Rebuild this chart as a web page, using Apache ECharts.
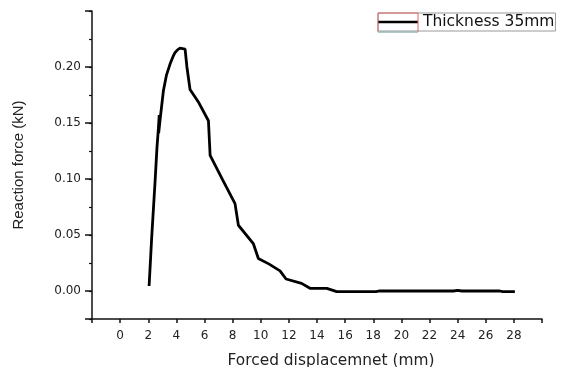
<!DOCTYPE html>
<html><head><meta charset="utf-8">
<script src="https://cdn.jsdelivr.net/npm/echarts@6/dist/echarts.min.js"></script>
<style>html,body{margin:0;padding:0;background:#fff}#c{width:567px;height:367px}</style>
</head><body><div id="c"></div>
<script>
const seriesName = 'Thickness 35mm';
const xs = [2.06, 2.25, 2.49, 2.62, 2.72, 2.78, 2.74, 2.86, 3.08, 3.3, 3.55, 3.75, 3.91, 4.1, 4.26, 4.62, 4.75, 4.97, 5.6, 6.28, 6.4, 7.3, 8.17, 8.41, 9.47, 9.83, 10.6, 11.37, 11.8, 12.9, 13.5, 14.7, 15.4, 18.2, 18.4, 23.7, 24.0, 24.3, 27.0, 27.2, 28.07];
const ys = [0.0045, 0.049, 0.0988, 0.128, 0.145, 0.157, 0.141, 0.155, 0.179, 0.193, 0.2026, 0.209, 0.213, 0.2155, 0.2168, 0.216, 0.200, 0.180, 0.168, 0.152, 0.121, 0.099, 0.078, 0.0587, 0.0424, 0.029, 0.024, 0.018, 0.0107, 0.0068, 0.0024, 0.0024, -0.0006, -0.0006, 0.0, 0.0, 0.0006, 0.0, 0.0, -0.0006, -0.0006];
const yLabelValues = [0, 0.05, 0.10, 0.15, 0.20];
const yMajorTicks = [-0.025, 0, 0.05, 0.10, 0.15, 0.20, 0.25];

const chart = echarts.init(document.getElementById('c'), null, {renderer: 'canvas'});
const axisColor = '#111';
chart.setOption({
  animation: false,
  backgroundColor: '#fff',
  grid: {left: 92, right: 25, top: 11, bottom: 48, containLabel: false, outerBoundsMode: 'none'},
  legend: {
    left: 378, top: 13,
    padding: [1, 1, 1, 0],
    borderColor: '#999', borderWidth: 1,
    itemWidth: 40, itemHeight: 15,
    textStyle: {fontFamily: 'DejaVu Sans', fontSize: 15.5, color: '#111'},
    data: [{name: seriesName, icon: 'path://M0,6 L40,6 L40,8.4 L0,8.4 Z'}]
  },
  xAxis: {
    type: 'value', min: -2, max: 30, interval: 2,
    name: 'Forced displacemnet (mm)', nameLocation: 'middle', nameGap: 34,
    nameTextStyle: {fontFamily: 'DejaVu Sans', fontSize: 15.4, color: '#222', padding: [0, 0, 0, 28]},
    axisLine: {show: true, onZero: false, lineStyle: {color: axisColor, width: 1.5}},
    axisTick: {show: true, inside: false, length: 4, lineStyle: {color: axisColor, width: 1.5}},
    axisLabel: {
      margin: 11, fontFamily: 'DejaVu Sans', fontSize: 12, color: '#222',
      formatter: v => (v < 0 || v > 28) ? '' : String(v)
    },
    splitLine: {show: false}
  },
  yAxis: [{
    type: 'value', min: -0.025, max: 0.25, interval: 0.025,
    name: 'Reaction force (kN)', nameLocation: 'middle', nameGap: 66,
    nameTextStyle: {fontFamily: 'Liberation Sans', fontSize: 15, color: '#222'},
    axisLine: {show: true, onZero: false, lineStyle: {color: axisColor, width: 1.5}},
    axisTick: {show: true, length: 7, customValues: yMajorTicks, lineStyle: {color: axisColor, width: 1.5}},
    axisLabel: {
      margin: 11, fontFamily: 'DejaVu Sans', fontSize: 12, color: '#222',
      customValues: yLabelValues,
      formatter: v => v.toFixed(2)
    },
    splitLine: {show: false}
  }, {
    type: 'value', min: -0.025, max: 0.25, interval: 0.025, position: 'left',
    axisLine: {show: false, onZero: false},
    axisTick: {show: true, length: 3, lineStyle: {color: axisColor, width: 1.2}},
    axisLabel: {show: false},
    splitLine: {show: false}
  }],
  series: [{
    name: seriesName,
    type: 'line',
    yAxisIndex: 0,
    data: xs.map((x, i) => [x, ys[i]]),
    showSymbol: false, symbol: 'none',
    lineStyle: {color: '#000', width: 2.8},
    itemStyle: {color: '#000'}
  }],
  graphic: [
    {type: 'rect', shape: {x: 378, y: 13, width: 40, height: 19}, style: {fill: 'none', stroke: '#d66', lineWidth: 1}, z: 100},
    {type: 'line', shape: {x1: 378, y1: 32, x2: 418, y2: 32}, style: {stroke: '#7dd', lineWidth: 1}, z: 101}
  ]
});
</script></body></html>
